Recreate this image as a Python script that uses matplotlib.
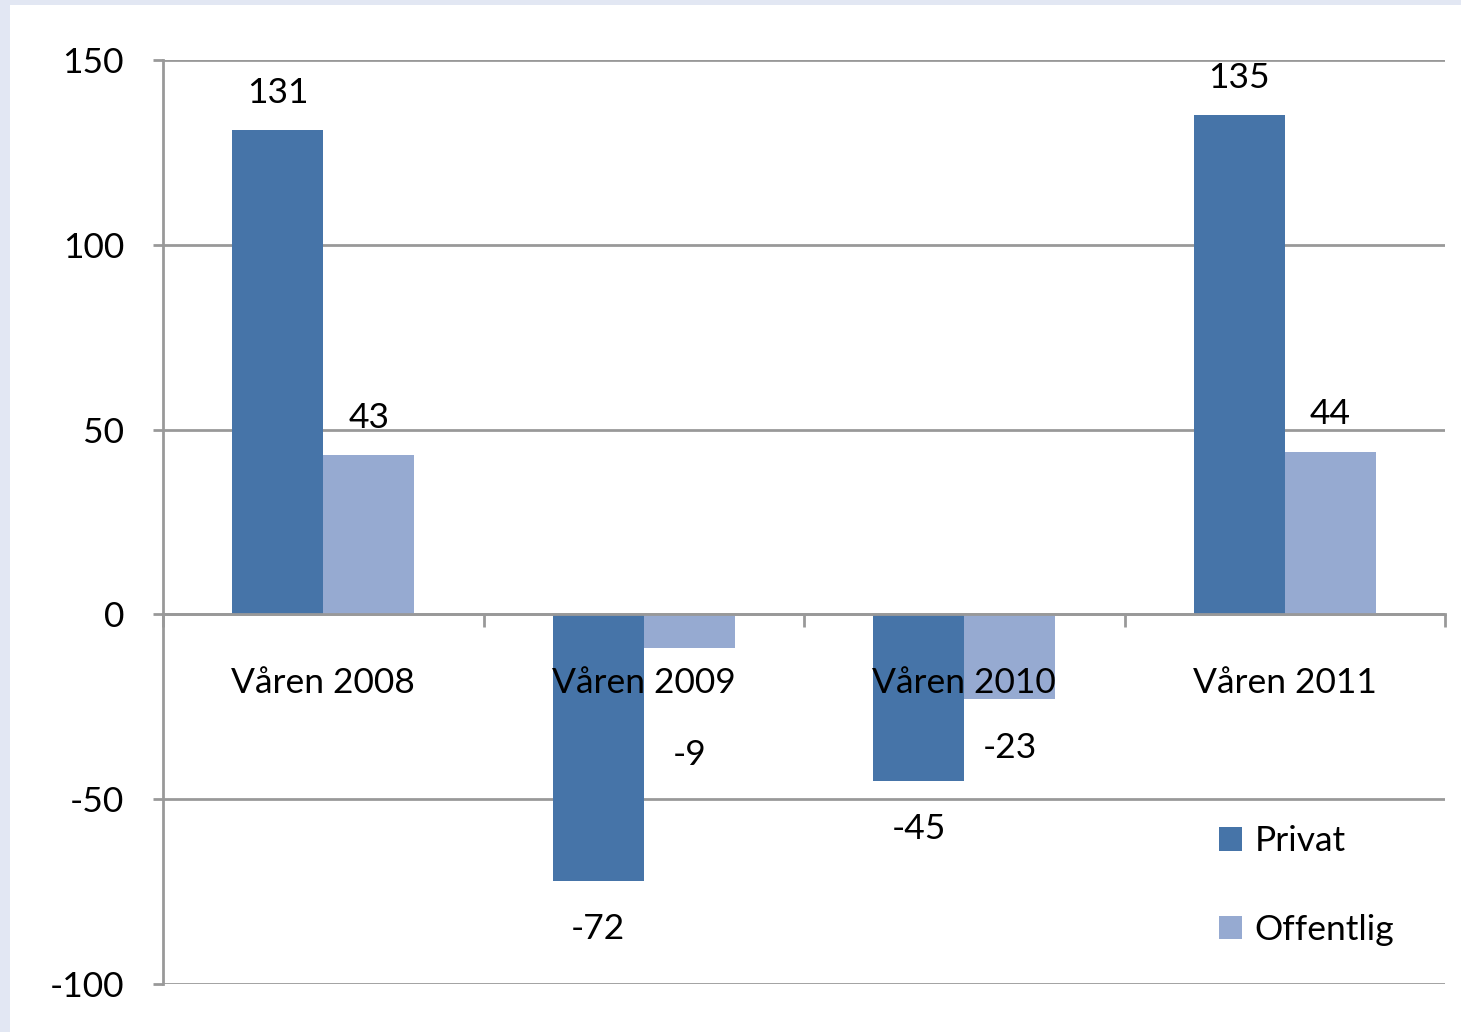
import numpy as np
import matplotlib.pyplot as plt
from matplotlib.patches import Rectangle

plt.rcParams['font.family'] = ['Lato', 'DejaVu Sans']
plt.rcParams['axes.unicode_minus'] = False

kategorier = ['Våren 2008', 'Våren 2009', 'Våren 2010', 'Våren 2011']
privat = [131, -72, -45, 135]
offentlig = [43, -9, -23, 44]
y_ticks = [-100, -50, 0, 50, 100, 150]

farge_privat = '#4674A8'
farge_offentlig = '#96AAD1'
grid_farge = '#999999'

fig = plt.figure(figsize=(14.61, 10.32), dpi=100, facecolor='#e2e7f3')
# hvit flate (lysbilde-bakgrunn i kantene)
fig.patches.append(Rectangle((10 / 1461, 0), 1, 1 - 5 / 1032, transform=fig.transFigure,
                             facecolor='white', edgecolor='none', zorder=-10))
ax = fig.add_axes([163 / 1461, 1 - 984 / 1032, (1445 - 163) / 1461, (984 - 60) / 1032])
ax.set_facecolor('none')

x = np.arange(len(kategorier))
w = 0.284
b1 = ax.bar(x - w / 2, privat, w, color=farge_privat, zorder=1, label='Privat')
b2 = ax.bar(x + w / 2, offentlig, w, color=farge_offentlig, zorder=1, label='Offentlig')

ax.set_xlim(-0.5, 3.5)
ax.set_ylim(-100, 150)
ax.set_yticks(y_ticks)
for t in y_ticks:
    ax.axhline(t, color=grid_farge, lw=2, zorder=0)

for s in ['top', 'right']:
    ax.spines[s].set_visible(False)
ax.spines['left'].set_color(grid_farge)
ax.spines['left'].set_linewidth(2)
ax.spines['bottom'].set_position(('data', 0))
ax.spines['bottom'].set_color(grid_farge)
ax.spines['bottom'].set_linewidth(2)

ax.set_xticks(x)
ax.set_xticklabels(kategorier)
ax.set_xticks(np.arange(-0.5, 4, 1), minor=True)
ax.tick_params(axis='x', which='major', length=0, pad=38, labelsize=25.5)
ax.tick_params(axis='x', which='minor', length=9, width=2, color=grid_farge, direction='out')
ax.tick_params(axis='y', length=7, width=2, color=grid_farge, pad=21, labelsize=25.5)

# dataetiketter
def etikett(bars, verdier, ekstra=None):
    for i, (r, v) in enumerate(zip(bars, verdier)):
        cx = r.get_x() + r.get_width() / 2
        off = 27 if v >= 0 else -35
        if ekstra and i in ekstra:
            off = ekstra[i]
        ax.annotate(str(v), (cx, v), xytext=(0, off), textcoords='offset points',
                    ha='center', va='center', fontsize=25.5, zorder=5)

etikett(b1, privat)
etikett(b2, offentlig, ekstra={1: -77})

ax.legend(loc='lower left', bbox_to_anchor=(0.81, 0.022), frameon=False, fontsize=25.5,
          handlelength=0.65, handleheight=0.65, handletextpad=0.35, labelspacing=1.6,
          borderpad=0)

fig.savefig('out.png', dpi=100)
